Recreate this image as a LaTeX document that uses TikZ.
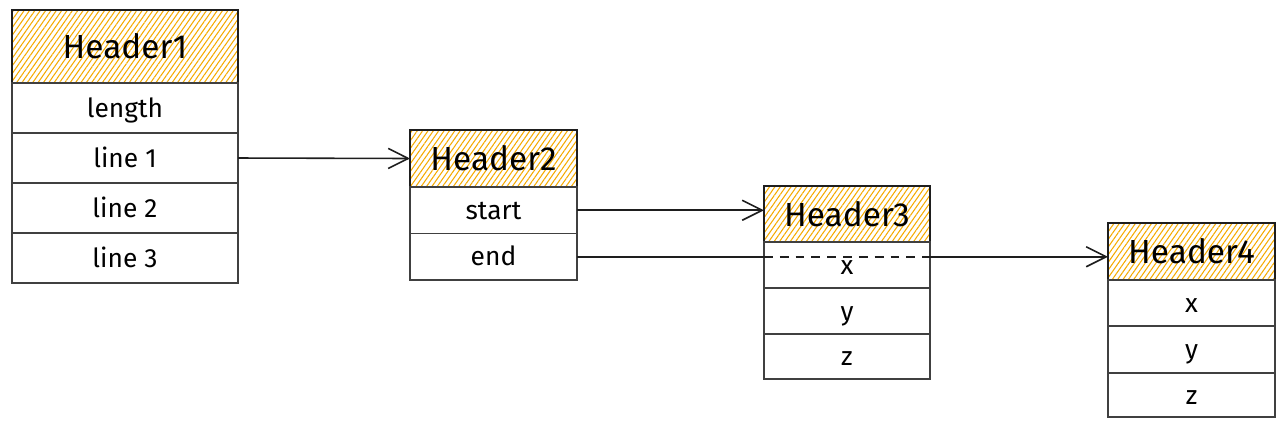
\documentclass[tikz,border=0pt]{standalone}
\usepackage{fontspec}
\setmainfont{Fira Sans}
\usetikzlibrary{positioning}
\usetikzlibrary{arrows.meta,patterns.meta}
\definecolor{hatch}{RGB}{245,170,0}
\definecolor{ink}{RGB}{30,30,30}

\begin{document}
\begin{tikzpicture}
  [head/.style={draw=ink,line width=0.8pt,outer sep=0pt,inner sep=0pt,
     pattern={Lines[angle=55,distance=2.5pt,line width=0.6pt]},pattern color=hatch,
     font=\fontsize{19}{22}\selectfont},
  cell/.style={draw=ink!85,line width=0.8pt,outer sep=0pt,inner sep=0pt,
     text height=14pt,text depth=3.5pt,font=\fontsize{15}{18}\selectfont},
  link/.style={draw=ink,line width=0.9pt},
  tip/.style={-{Straight Barb[length=4mm,width=4mm,line width=0.9pt]}}]
  \useasboundingbox (0,0) rectangle (25.74,-8.56);

  % table 1
  \node[head,minimum width=4.52cm,minimum height=1.46cm,anchor=north west] (h1) at (0.24,-0.2) {Header1};
  \node[cell,minimum width=4.52cm,minimum height=1cm,below=0pt of h1] (r11) {length};
  \node[cell,minimum width=4.52cm,minimum height=1cm,below=0pt of r11] (r12) {line 1};
  \node[cell,minimum width=4.52cm,minimum height=1cm,below=0pt of r12] (r13) {line 2};
  \node[cell,minimum width=4.52cm,minimum height=1cm,below=0pt of r13] (r14) {line 3};

  % table 2
  \node[head,minimum width=3.34cm,minimum height=1.14cm,anchor=north west] (h2) at (8.2,-2.6) {Header2};
  \node[cell,minimum width=3.34cm,minimum height=0.93cm,below=0pt of h2] (r21) {start};
  \node[cell,minimum width=3.34cm,minimum height=0.93cm,below=0pt of r21] (r22) {end};

  % table 3
  \node[head,minimum width=3.32cm,minimum height=1.12cm,anchor=north west] (h3) at (15.28,-3.72) {Header3};
  \node[cell,minimum width=3.32cm,minimum height=0.92cm,below=0pt of h3] (r31) {x};
  \node[cell,minimum width=3.32cm,minimum height=0.92cm,below=0pt of r31] (r32) {y};
  \node[cell,minimum width=3.32cm,minimum height=0.9cm,below=0pt of r32] (r33) {z};

  % table 4
  \node[head,minimum width=3.34cm,minimum height=1.14cm,anchor=north west] (h4) at (22.16,-4.46) {Header4};
  \node[cell,minimum width=3.34cm,minimum height=0.92cm,below=0pt of h4] (r41) {x};
  \node[cell,minimum width=3.34cm,minimum height=0.94cm,below=0pt of r41] (r42) {y};
  \node[cell,minimum width=3.34cm,minimum height=0.88cm,below=0pt of r42] (r43) {z};

  % links
  \draw[link,tip] (r12.east) -- (h2.west);
  \draw[link,tip] (r21.east) -- (r21.east -| h3.west);

  \coordinate (c1) at (r22.east -| r31.west);
  \coordinate (c2) at (r22.east -| r31.east);
  \coordinate (c3) at (r22.east -| h4.west);
  \draw[link] (r22.east) -- (c1);
  \draw[link,dashed,dash pattern=on 5pt off 4pt] (c1) -- (c2);
  \draw[link,tip] (c2) -- (c3);
\end{tikzpicture}
\end{document}
